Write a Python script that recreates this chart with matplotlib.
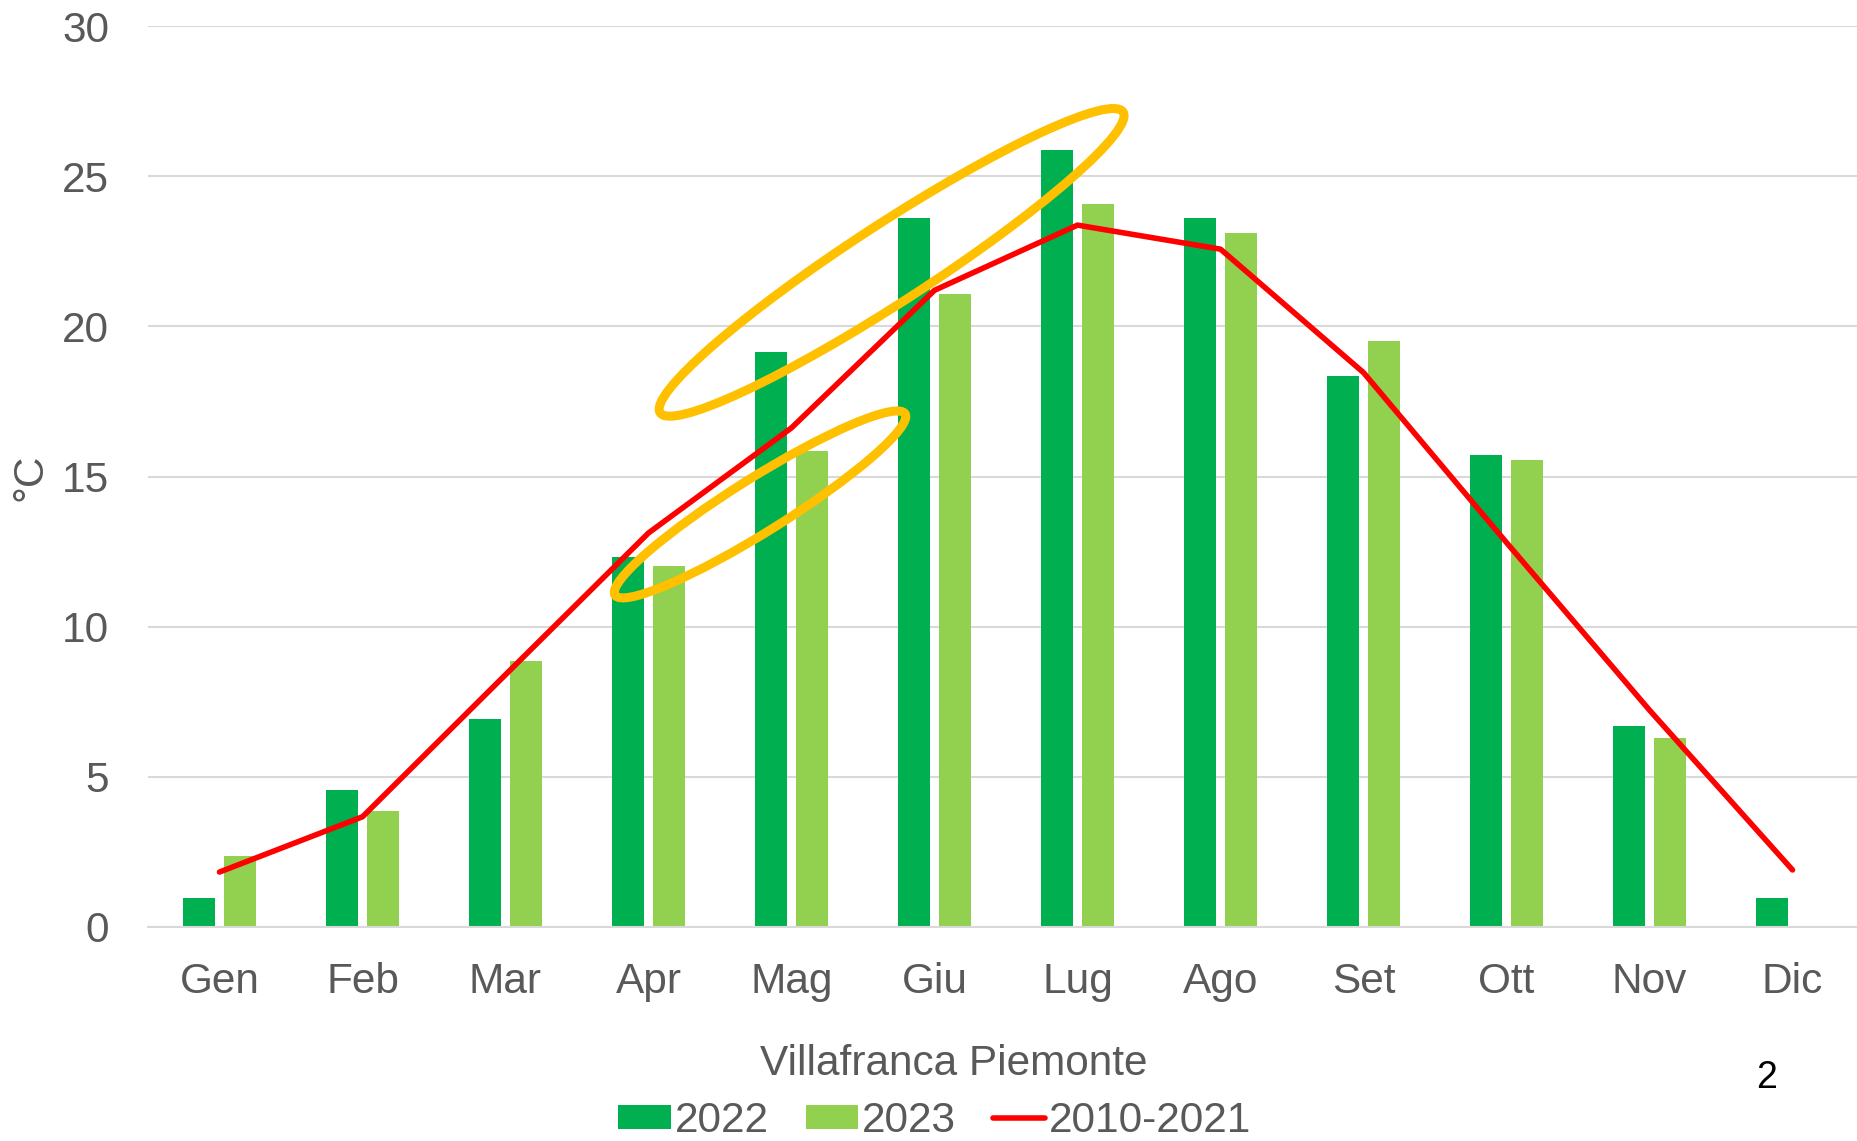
import numpy as np
import matplotlib
matplotlib.use("Agg")
import matplotlib.pyplot as plt
from matplotlib.patches import Ellipse
from matplotlib.transforms import IdentityTransform

plt.rcParams['font.family'] = ['Liberation Sans', 'DejaVu Sans']

mesi = ["Gen", "Feb", "Mar", "Apr", "Mag", "Giu", "Lug", "Ago", "Set", "Ott", "Nov", "Dic"]
t2022 = [0.95, 4.57, 6.93, 12.32, 19.16, 23.61, 25.88, 23.60, 18.34, 15.73, 6.68, 0.95]
t2023 = [2.38, 3.86, 8.87, 12.03, 15.84, 21.07, 24.07, 23.12, 19.51, 15.54, 6.29, np.nan]
t_media = [1.83, 3.67, 8.40, 13.12, 16.62, 21.2, 23.37, 22.57, 18.46, 12.8, 7.22, 1.90]

grigio = '#595959'
W, H = 1857, 1141
fig = plt.figure(figsize=(W / 100, H / 100), dpi=100)
ax = fig.add_axes([148 / W, (H - 927) / H, 1716 / W, 901 / H])

x = np.arange(len(mesi))
b1 = ax.bar(x - 0.142, t2022, 0.223, color='#00B050', label='2022', zorder=2)
b2 = ax.bar(x + 0.142, t2023, 0.223, color='#92D050', label='2023', zorder=2)
l1, = ax.plot(x, t_media, color='#FF0000', lw=4, solid_capstyle='round',
              solid_joinstyle='round', label='2010-2021', zorder=3)

ax.set_xlim(-0.5, 11.5)
ax.set_ylim(0, 30)
ax.set_yticks(range(0, 31, 5))
ax.set_xticks(x)
ax.set_xticklabels(mesi)
ax.yaxis.grid(True, color='#D9D9D9', lw=1.5, zorder=0)
ax.set_axisbelow(True)
for s in ['top', 'right', 'left']:
    ax.spines[s].set_visible(False)
ax.spines['bottom'].set_color('#D9D9D9')
ax.spines['bottom'].set_linewidth(1.5)
ax.tick_params(length=0, labelsize=30.5, labelcolor=grigio)
ax.tick_params(axis='y', pad=28)
ax.tick_params(axis='x', pad=25)

fig.text(954 / W, 1 - 1064 / H, 'Villafranca Piemonte', fontsize=30.5, color=grigio,
         ha='center', va='center')
fig.text(31 / W, 1 - 477 / H, '°C', rotation=90, fontsize=30.5, color=grigio,
         ha='center', va='center')

leg = fig.legend([b1, b2, l1], ['2022', '2023', '2010-2021'], loc='center',
                 bbox_to_anchor=(935 / W, 1 - 1121 / H), ncol=3,
                 frameon=False, fontsize=30.5, handlelength=1.23, handleheight=0.5,
                 handletextpad=0.1, columnspacing=0.87, borderpad=0)
for t in leg.get_texts():
    t.set_color(grigio)

fig.text(1767 / W, 1 - 1078 / H, '2', fontsize=27, color='black', ha='center', va='center')

# evidenziazioni gialle
fig.canvas.draw()
for cx, cy, w, h, ang in [(4.70, 22.13, 552, 78, 33), (3.78, 14.07, 342, 54, 32)]:
    px, py = ax.transData.transform((cx, cy))
    e = Ellipse((px, py), w, h, angle=ang, transform=IdentityTransform(),
                fill=False, edgecolor='#FFC000', lw=6.5, zorder=4)
    ax.add_artist(e)

fig.savefig('out.png', dpi=100)
